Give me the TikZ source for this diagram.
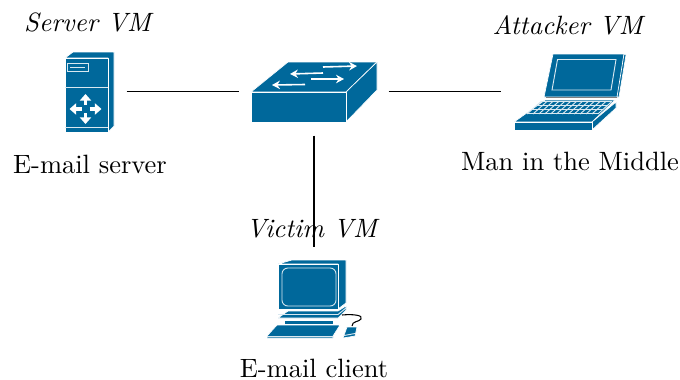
\documentclass[tikz,border=0pt]{standalone}
\usetikzlibrary{arrows.meta}
\definecolor{ciscoblue}{HTML}{00689B}
\tikzset{
	hub/.style n args={2}{inner sep=0pt,minimum width=#1*0.3775pt,minimum height=#2*0.3775pt},
	icon/.style={fill=ciscoblue,draw=white,line width=0.25pt,line join=round},
	trim/.style={draw=white!85!ciscoblue,line width=0.35pt},
	flow/.style={white,line width=0.6pt,-{Stealth[width=3.2pt,length=3pt]}},
	block/.style={white,line width=1.5pt,-{Triangle[width=4.2pt,length=2.5pt]}},
}
\begin{document}
\begin{tikzpicture}[>=stealth,x=0.3775pt,y=-0.3775pt]
		\useasboundingbox (0,0) rectangle (680,379);
		% connector ends
		\node[hub={74}{80}] (server) at (89,91.5) {};
		\node[hub={148}{87}] (switch) at (314,91.5) {};
		\node[hub={136}{80}] (attacker) at (570,91.5) {};
		\node[hub={100}{104}] (victim) at (314,300) {};
		% server
		\draw[icon] (65,58) -- (73,52) -- (114,52) -- (114,126) -- (108,132) -- (108,58) -- cycle;
		\draw[icon] (65,58) rectangle (108,132);
		\draw[trim] (65,87) -- (108,87) (65,127) -- (108,127) (67.5,63.5) rectangle (88.5,71.5) (70,67.5) -- (85,67.5);
		\foreach \dx/\dy in {1/0,-1/0,0/1,0/-1}
			\draw[block] (85.5+4*\dx,109+4*\dy) -- (85.5+16*\dx,109+15*\dy);
		% switch
		\draw[icon] (251,92) -- (288,62) -- (377,62) -- (346,92) -- cycle;
		\draw[icon] (346,92) -- (377,62) -- (377,90) -- (346,122) -- cycle;
		\draw[icon] (251,92) rectangle (346,122);
		\draw[flow] (323,67) -- (357,66);
		\draw[flow] (323,73) -- (290,74);
		\draw[flow] (311,79) -- (344,79);
		\draw[flow] (305,84.5) -- (272,85);
		% attacker laptop
		\draw[icon] (553,54) -- (624,54) -- (618,97) -- (544,97) -- cycle;
		\draw[icon] (624,54) -- (626,55) -- (619,97) -- (617,97) -- cycle;
		\draw[trim] (557.5,59.5) -- (616,59.5) -- (611,90) -- (552,90) -- cycle;
		\draw[gray,line width=0.4pt] (546,97.5) -- (617,97.5);
		\draw[icon] (545,100) -- (615,100) -- (592,122) -- (514,122) -- cycle;
		\draw[icon] (592,122) -- (616,102) -- (616,108) -- (592,130) -- cycle;
		\draw[icon] (514,122) rectangle (592,130);
		\foreach \r in {0,1,2,3}
			\draw[trim] (541-\r*4.6,101.5+\r*4) -- (612-\r*4.6,101.5+\r*4);
		\foreach \c in {0,...,12}
			\draw[trim] (541+\c*5.9,101.5) -- (527+\c*5.9,114);
		% victim pc
		\draw[icon] (278,264) -- (292,260) -- (346,260) -- (346,303) -- (338,309) -- (338,264) -- cycle;
		\draw[icon] (278,264) rectangle (338,309);
		\draw[trim,rounded corners=2.2pt] (282,268) rectangle (336,306);
		\draw[icon] (278,318) -- (288,311) -- (338,311) -- (346,306) -- (346,310) -- (338,318) -- cycle;
		\draw[trim] (278,314.5) -- (338,314.5) -- (346,308);
		\draw[icon] (284,320) rectangle (333,324);
		\draw[line width=0.4pt] (342,315) .. controls (352,314) and (364,315) .. (361,319) .. controls (359,322) and (352,321) .. (352,326);
		\draw[icon] (267,336) -- (277,325) -- (340,325) -- (333,336) -- (333,338) -- (267,338) -- cycle;
		\draw[trim] (267,336) -- (333,336);
		\draw[icon] (343,338) -- (347,327) -- (357,327) -- (355,336) -- cycle;
		\draw[trim] (344,335.5) -- (355,333.5);
		% labels
		\node (servertag) at (89,22) {\textit{Server VM}};
		\node (servername) at (90,164) {E-mail server};
		\node (attackertag) at (569,25) {\textit{Attacker VM}};
		\node (attackername) at (570,161) {Man in the Middle};
		\node (victimtag) at (313,229) {\textit{Victim VM}};
		\node (victimname) at (314,368) {E-mail client};
		% links
		\draw (server.east) -- (switch.west);
		\draw (switch.east) -- (attacker.west);
		\draw (switch.south) -- (victim.north);
		\end{tikzpicture}
\end{document}
